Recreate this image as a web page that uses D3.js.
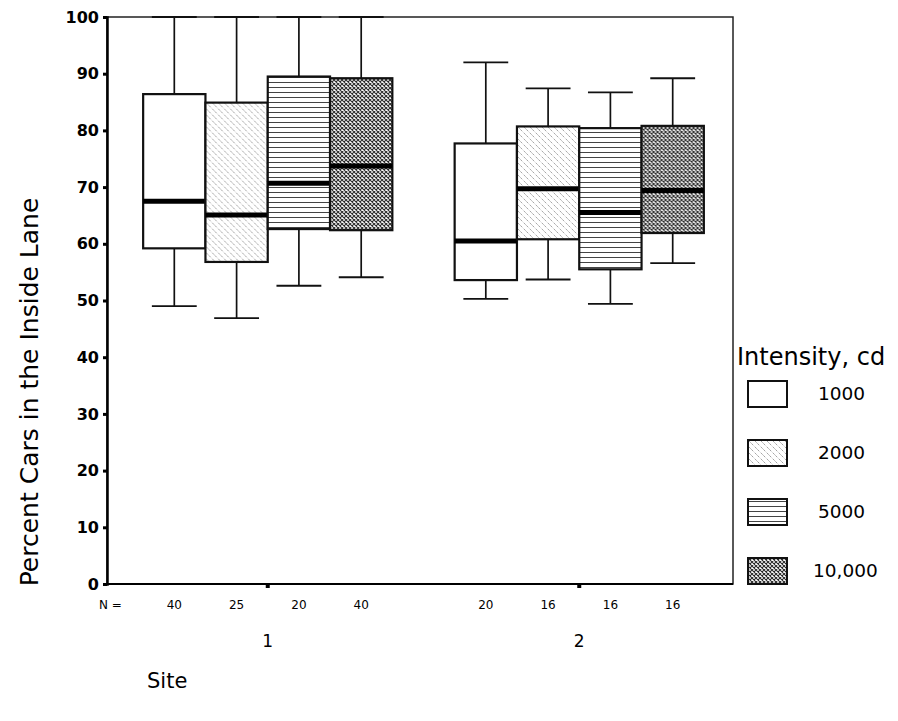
<!DOCTYPE html>
<html>
<head>
<meta charset="utf-8">
<script src="https://cdn.jsdelivr.net/npm/d3@7"></script>
<style>
  html, body { margin: 0; padding: 0; background: #fff; }
  svg { display: block; }
  text { font-family: "DejaVu Sans", "Liberation Sans", Arial, sans-serif; fill: #000; }
</style>
</head>
<body>
<svg id="chart" width="898" height="721"></svg>
<script>
// ---------------- data ----------------
const sites = ["1", "2"];
const intensities = ["1000", "2000", "5000", "10,000"];
const yTicks = [0, 10, 20, 30, 40, 50, 60, 70, 80, 90, 100];

const site1N      = [40, 25, 20, 40];
const site1Low    = [49.0, 46.9, 52.6, 54.1];
const site1Q1     = [59.2, 56.8, 62.6, 62.4];
const site1Median = [67.5, 65.1, 70.7, 73.7];
const site1Q3     = [86.4, 84.9, 89.5, 89.2];
const site1High   = [100, 100, 100, 100];

const site2N      = [20, 16, 16, 16];
const site2Low    = [50.3, 53.7, 49.4, 56.6];
const site2Q1     = [53.6, 60.8, 55.5, 61.9];
const site2Median = [60.5, 69.7, 65.5, 69.4];
const site2Q3     = [77.7, 80.7, 80.4, 80.8];
const site2High   = [92.0, 87.4, 86.7, 89.2];

const yTitle = "Percent Cars in the Inside Lane";
const xTitle = "Site";
const legendTitle = "Intensity, cd";

// build rows
const bySite = {
  "1": { n: site1N, low: site1Low, q1: site1Q1, med: site1Median, q3: site1Q3, high: site1High },
  "2": { n: site2N, low: site2Low, q1: site2Q1, med: site2Median, q3: site2Q3, high: site2High }
};
const rows = [];
sites.forEach(s => intensities.forEach((k, i) => {
  const d = bySite[s];
  rows.push({ site: s, intensity: k, n: d.n[i], low: d.low[i], q1: d.q1[i], med: d.med[i], q3: d.q3[i], high: d.high[i] });
}));

// ---------------- layout ----------------
const svg = d3.select("#chart");
const frame = { left: 107, right: 733, top: 17, bottom: 584 };

const y = d3.scaleLinear().domain([0, 100]).range([frame.bottom, frame.top]);
const x0 = d3.scaleBand().domain(sites).range([112, 735]).paddingInner(0.2).paddingOuter(0.1);
const x1 = d3.scaleBand().domain(intensities).range([0, x0.bandwidth()]);

// ---------------- patterns ----------------
const defs = svg.append("defs");
// 2000: light diagonal stipple
const p2 = defs.append("pattern").attr("id", "pat2000").attr("patternUnits", "userSpaceOnUse")
  .attr("width", 6).attr("height", 6);
p2.append("rect").attr("width", 6).attr("height", 6).attr("fill", "#fff");
p2.append("path").attr("d", "M-1,-1 L7,7 M-1,5 L1,7 M5,-1 L7,1").attr("stroke", "#7a7a7a")
  .attr("stroke-width", 1).attr("stroke-dasharray", "1.3,1.2");
// 5000: horizontal lines
const p5 = defs.append("pattern").attr("id", "pat5000").attr("patternUnits", "userSpaceOnUse")
  .attr("width", 6).attr("height", 5);
p5.append("rect").attr("width", 6).attr("height", 5).attr("fill", "#fff");
p5.append("line").attr("x1", 0).attr("x2", 6).attr("y1", 2.5).attr("y2", 2.5)
  .attr("stroke", "#444").attr("stroke-width", 1);
// 10,000: dense cross-hatch
const p10 = defs.append("pattern").attr("id", "pat10000").attr("patternUnits", "userSpaceOnUse")
  .attr("width", 4).attr("height", 4);
p10.append("rect").attr("width", 4).attr("height", 4).attr("fill", "#fff");
p10.append("path").attr("d", "M0,0 L4,4 M4,0 L0,4").attr("stroke", "#2a2a2a").attr("stroke-width", 1.1);

const fillFor = {
  "1000": "#fff",
  "2000": "url(#pat2000)",
  "5000": "url(#pat5000)",
  "10,000": "url(#pat10000)"
};

// ---------------- frame ----------------
svg.append("rect")
  .attr("x", frame.left).attr("y", frame.top)
  .attr("width", frame.right - frame.left).attr("height", frame.bottom - frame.top)
  .attr("fill", "none").attr("stroke", "#222").attr("stroke-width", 1.5);

// ---------------- boxes ----------------
const g = svg.append("g");
const boxes = g.selectAll("g.box").data(rows).join("g").attr("class", "box")
  .attr("transform", d => `translate(${x0(d.site) + x1(d.intensity)},0)`);
const bw = x1.bandwidth();
const cap = bw * 0.72;

boxes.append("line").attr("x1", bw / 2).attr("x2", bw / 2)
  .attr("y1", d => y(d.high)).attr("y2", d => y(d.q3)).attr("stroke", "#111").attr("stroke-width", 1.7);
boxes.append("line").attr("x1", bw / 2).attr("x2", bw / 2)
  .attr("y1", d => y(d.q1)).attr("y2", d => y(d.low)).attr("stroke", "#111").attr("stroke-width", 1.7);
boxes.append("line").attr("x1", (bw - cap) / 2).attr("x2", (bw + cap) / 2)
  .attr("y1", d => y(d.high)).attr("y2", d => y(d.high)).attr("stroke", "#111").attr("stroke-width", 1.8);
boxes.append("line").attr("x1", (bw - cap) / 2).attr("x2", (bw + cap) / 2)
  .attr("y1", d => y(d.low)).attr("y2", d => y(d.low)).attr("stroke", "#111").attr("stroke-width", 1.8);
boxes.append("rect").attr("x", 0).attr("width", bw)
  .attr("y", d => y(d.q3)).attr("height", d => y(d.q1) - y(d.q3))
  .attr("fill", d => fillFor[d.intensity]).attr("stroke", "#111").attr("stroke-width", 2.2);
boxes.append("line").attr("x1", 0).attr("x2", bw)
  .attr("y1", d => y(d.med)).attr("y2", d => y(d.med)).attr("stroke", "#000").attr("stroke-width", 5);

// ---------------- y axis ----------------
const yAxis = d3.axisLeft(y).tickValues(yTicks).tickSize(4).tickPadding(4);
const ya = svg.append("g").attr("transform", `translate(${frame.left},0)`).call(yAxis);
ya.select(".domain").attr("stroke", "#000").attr("stroke-width", 2.5);
ya.selectAll(".tick line").attr("stroke", "#000").attr("stroke-width", 3);
ya.selectAll(".tick text").attr("font-size", 16).attr("font-family", "DejaVu Sans, sans-serif")
  .attr("fill", "#000").attr("font-weight", "bold");

// ---------------- x axis ----------------
const xAxis = d3.axisBottom(x0).tickSize(4).tickFormat(() => "");
const xa = svg.append("g").attr("transform", `translate(0,${frame.bottom})`).call(xAxis);
xa.select(".domain").remove();
xa.selectAll(".tick line").attr("stroke", "#000").attr("stroke-width", 4);
svg.append("line").attr("x1", frame.left).attr("x2", frame.right)
  .attr("y1", frame.bottom).attr("y2", frame.bottom).attr("stroke", "#000").attr("stroke-width", 2);

// site labels
svg.selectAll("text.site").data(sites).join("text").attr("class", "site")
  .attr("x", d => x0(d) + x0.bandwidth() / 2).attr("y", 647)
  .attr("text-anchor", "middle").attr("font-size", 17).text(d => d);

// N labels
svg.append("text").attr("x", 99).attr("y", 609).attr("font-size", 12).text("N =");
svg.selectAll("text.nlab").data(rows).join("text").attr("class", "nlab")
  .attr("x", d => x0(d.site) + x1(d.intensity) + bw / 2).attr("y", 609)
  .attr("text-anchor", "middle").attr("font-size", 12).text(d => d.n);

// titles
svg.append("text").attr("transform", "translate(38,392) rotate(-90)")
  .attr("text-anchor", "middle").attr("font-size", 25).text(yTitle);
svg.append("text").attr("x", 147).attr("y", 688).attr("font-size", 21).text(xTitle);

// ---------------- legend ----------------
svg.append("text").attr("x", 737).attr("y", 365).attr("font-size", 24).text(legendTitle);
const lg = svg.selectAll("g.leg").data(intensities).join("g").attr("class", "leg")
  .attr("transform", (d, i) => `translate(748,${381 + i * 59})`);
lg.append("rect").attr("width", 39).attr("height", 26)
  .attr("fill", d => fillFor[d]).attr("stroke", "#111").attr("stroke-width", 2);
lg.append("text").attr("x", d => d === "10,000" ? 65 : 70).attr("y", 13).attr("dy", "0.35em")
  .attr("font-size", 18.5).text(d => d);
</script>
</body>
</html>
